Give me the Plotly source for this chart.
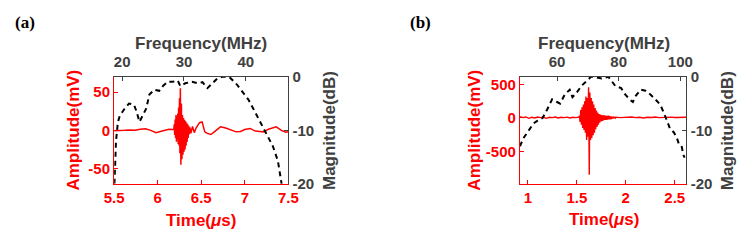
import plotly.graph_objects as go

# ---------------- Panel (a) ----------------
time_a = [5.50, 5.56, 5.62, 5.68, 5.74, 5.80, 5.86, 5.92, 5.98, 6.03, 6.08, 6.13, 6.17,
          6.185, 6.19, 6.195, 6.20, 6.205, 6.21, 6.215, 6.22, 6.225, 6.23, 6.235, 6.24,
          6.245, 6.25, 6.255, 6.26, 6.266, 6.272, 6.278, 6.284, 6.29, 6.296, 6.302,
          6.308, 6.314, 6.32, 6.326, 6.332, 6.338, 6.344, 6.35, 6.356, 6.362,
          6.37, 6.38, 6.40, 6.42, 6.44, 6.46, 6.48, 6.51, 6.54, 6.57, 6.61, 6.66,
          6.72, 6.78, 6.84, 6.90, 6.95, 7.00, 7.06, 7.12, 7.17, 7.22, 7.27, 7.32,
          7.36, 7.42, 7.47, 7.50]
amp_a = [-0.5, -0.5, 0, 0.5, 0, 1.5, 2, 0, -3, -1.5, 0.5, 1.5, 1,
         1, 8, -6, 14, -10, 20, -15, 18, -12, 22, -18, 30,
         -20, 42, -30, 55, -45, 35, -38, 20, -32, 16, -28,
         14, -25, 12, -20, 10, -15, 8, -10, 6, -5,
         4, -4, 5, -3, 3, 6, 10, 11, -2, -4, -5.5, -1,
         4.5, 3, 0.5, -2, -1.5, 1, 2.5, -1, -1.5, -2, 1.5, 3,
         4.5, 0, -2.5, -2]

freq_a = [18.75, 19.0, 19.3, 19.6, 20.3, 21.1, 21.9, 22.3, 22.8, 23.4, 23.9, 24.4,
          25.2, 26.0, 26.6, 27.4, 28.2, 29.0, 29.4, 30.2, 31.3, 32.2, 33.0, 33.8,
          34.6, 35.4, 36.2, 37.3, 38.4, 39.3, 40.4, 41.2, 42.0, 42.8, 43.6, 44.4,
          45.2, 45.6, 45.8]
mag_a = [-20, -12, -8.5, -7.3, -6.1, -5.0, -5.2, -6.4, -8.4, -7.0, -5.9, -3.3,
         -2.4, -2.6, -1.7, -0.9, -0.9, -0.7, -1.7, -1.2, -0.9, -1.2, -1.0, -2.1,
         -1.2, -0.3, 0, 0, -1.2, -2.6, -4.2, -5.9, -7.7, -9.4, -11.1, -13.0,
         -15.7, -18.6, -20]

# ---------------- Panel (b) ----------------
time_b = [0.92, 0.95, 0.98, 1.01, 1.04, 1.07, 1.10, 1.13, 1.16, 1.19, 1.22, 1.25,
          1.28, 1.31, 1.34, 1.37, 1.40, 1.43, 1.46, 1.49, 1.52,
          1.527, 1.533, 1.540, 1.547, 1.553, 1.560, 1.567, 1.573, 1.580, 1.587,
          1.593, 1.600, 1.607, 1.613, 1.620, 1.627, 1.633, 1.640, 1.647, 1.653,
          1.660, 1.667, 1.673, 1.680, 1.687, 1.693, 1.700, 1.707, 1.713, 1.720,
          1.727, 1.733, 1.740, 1.747, 1.753, 1.760, 1.767, 1.773, 1.780, 1.787,
          1.793, 1.800, 1.807, 1.813, 1.820, 1.827, 1.833, 1.840, 1.847, 1.853,
          1.860, 1.867, 1.873, 1.880, 1.887, 1.893, 1.900,
          1.94, 1.98, 2.02, 2.06, 2.10, 2.14, 2.18, 2.22, 2.26, 2.30, 2.34, 2.38,
          2.42, 2.46, 2.50, 2.54, 2.58, 2.62]
amp_b = [20, 5, 15, -5, 10, 0, 15, 5, 10, -5, 10, 5,
         15, 0, 10, 5, 12, 0, 10, 5, 12,
         30, -60, 120, -100, 160, -150, 200, -180, 250, -220,
         320, -330, 300, -280, 460, -850, 380, -330, 300, -300,
         250, -260, 200, -220, 150, -170, 110, -130, 80, -100,
         60, -70, 50, -50, 45, -45, 40, -35, 40, -30,
         35, -30, 30, -25, 35, -20, 30, -20, 25, -15,
         20, -10, 20, -5, 15, 0, 12,
         5, 12, 8, 15, 5, 10, 0, 10, 8, 15, 5, 10,
         5, 12, 8, 10, 5, 10]

freq_b = [48.0, 48.3, 49.3, 50.9, 52.4, 53.7, 55.3, 56.8, 58.4, 60.0, 61.0, 62.5,
          64.1, 65.0, 66.3, 67.9, 69.5, 71.0, 72.0, 73.2, 74.5, 76.7, 78.9, 80.8,
          82.1, 83.7, 84.6, 85.6, 87.2, 88.7, 90.3, 91.9, 93.5, 94.7, 95.7, 96.6,
          97.9, 98.8, 99.5, 100.4, 101.0, 101.4]
mag_b = [-13.0, -12.5, -11.3, -9.9, -8.7, -8.2, -7.7, -6.1, -4.2, -4.7, -5.0, -3.3,
         -2.4, -3.8, -3.0, -1.7, -0.9, 0, 0, -0.2, -0.3, 0, -1.7, -2.1,
         -3.3, -4.3, -4.7, -3.5, -2.4, -2.6, -3.3, -4.2, -5.2, -6.8, -8.2, -9.6,
         -10.4, -11.3, -12.5, -12.9, -14.6, -15.1]

# ---------------- Tick labels ----------------
time_ticks_a = [5.5, 6, 6.5, 7, 7.5]
time_text_a = ["5.5", "6", "6.5", "7", "7.5"]
amp_ticks_a = [-50, 0, 50]
amp_text_a = ["-50", "0", "50"]
freq_ticks_a = [20, 30, 40]
freq_text_a = ["20", "30", "40"]
time_ticks_b = [1, 1.5, 2, 2.5]
time_text_b = ["1", "1.5", "2", "2.5"]
amp_ticks_b = [-500, 0, 500]
amp_text_b = ["-500", "0", "500"]
freq_ticks_b = [60, 80, 100]
freq_text_b = ["60", "80", "100"]
mag_ticks = [-20, -10, 0]
mag_text = ["-20", "-10", "0"]

RED = "#ff0000"
GRAY = "#404040"
FONT = "Liberation Sans"
W, H = 751, 242

fig = go.Figure()
fig.add_trace(go.Scatter(x=time_a, y=amp_a, xaxis="x", yaxis="y", mode="lines",
                         line=dict(color=RED, width=1.5), showlegend=False))
fig.add_trace(go.Scatter(x=freq_a, y=mag_a, xaxis="x2", yaxis="y2", mode="lines",
                         line=dict(color="black", width=2, dash="5px,4px"), showlegend=False))
fig.add_trace(go.Scatter(x=time_b, y=amp_b, xaxis="x3", yaxis="y3", mode="lines",
                         line=dict(color=RED, width=1.4), showlegend=False))
fig.add_trace(go.Scatter(x=freq_b, y=mag_b, xaxis="x4", yaxis="y4", mode="lines",
                         line=dict(color="black", width=2, dash="5px,4px"), showlegend=False))


def ax(color, rng, tv, tt, **kw):
    d = dict(range=rng, tickvals=tv, ticktext=tt, ticks="inside", ticklen=4,
             tickcolor=color, tickwidth=1, showline=True, linecolor=color, linewidth=1.3,
             showgrid=False, zeroline=False,
             tickfont=dict(family=FONT, size=15, color=color, weight="bold"))
    d.update(kw)
    return d


ydom = [1 - 188 / H, 1 - 73 / H]
xdom_a = [107 / W, 286 / W]
xdom_b = [524 / W, 695 / W]

fig.update_layout(
    width=W, height=H, margin=dict(l=0, r=0, t=0, b=0),
    paper_bgcolor="white", plot_bgcolor="white",
    xaxis=ax(RED, [5.5, 7.5], time_ticks_a, time_text_a, domain=xdom_a, anchor="y"),
    yaxis=ax(RED, [-70, 70], amp_ticks_a, amp_text_a, domain=ydom, anchor="x"),
    xaxis2=ax(GRAY, [18.7, 46.9], freq_ticks_a, freq_text_a, overlaying="x", side="top",
              anchor="y", ticklabelstandoff=3),
    yaxis2=ax(GRAY, [-20, 0], mag_ticks, mag_text, overlaying="y", side="right", anchor="x"),
    xaxis3=ax(RED, [0.92, 2.62], time_ticks_b, time_text_b, domain=xdom_b, anchor="y3"),
    yaxis3=ax(RED, [-985, 615], amp_ticks_b, amp_text_b, domain=ydom, anchor="x3"),
    xaxis4=ax(GRAY, [48, 102], freq_ticks_b, freq_text_b, overlaying="x3", side="top",
              anchor="y3", ticklabelstandoff=3),
    yaxis4=ax(GRAY, [-20, 0], mag_ticks, mag_text, overlaying="y3", side="right", anchor="x3"),
)


def ann(text, px, py, color, size=17, angle=0, family=FONT, bold=True):
    fig.add_annotation(text=text, x=px / W, y=1 - py / H, xref="paper", yref="paper",
                       showarrow=False, xanchor="center", yanchor="middle", textangle=angle,
                       font=dict(family=family, size=size, color=color,
                                 weight="bold" if bold else "normal"))


# axis titles
ann("Frequency(MHz)", 196.5, 37, GRAY)
ann("Time(<i>μ</i>s)", 196.5, 227, RED)
ann("Amplitude(mV)", 65, 130.5, RED, angle=-90)
ann("Magnitude(dB)", 329, 131, GRAY, angle=-90)
ann("Frequency(MHz)", 610, 37, GRAY)
ann("Time(<i>μ</i>s)", 610.5, 226, RED)
ann("Amplitude(mV)", 477, 130.5, RED, angle=-90)
ann("Magnitude(dB)", 737, 131, GRAY, angle=-90)
# panel labels
ann("(a)", 15, 15, "black", size=17, family="Liberation Serif")
ann("(b)", 421.5, 15, "black", size=17, family="Liberation Serif")

fig.write_html("out.html", config={"displayModeBar": False},
               post_script="document.body.style.margin='0px';")
